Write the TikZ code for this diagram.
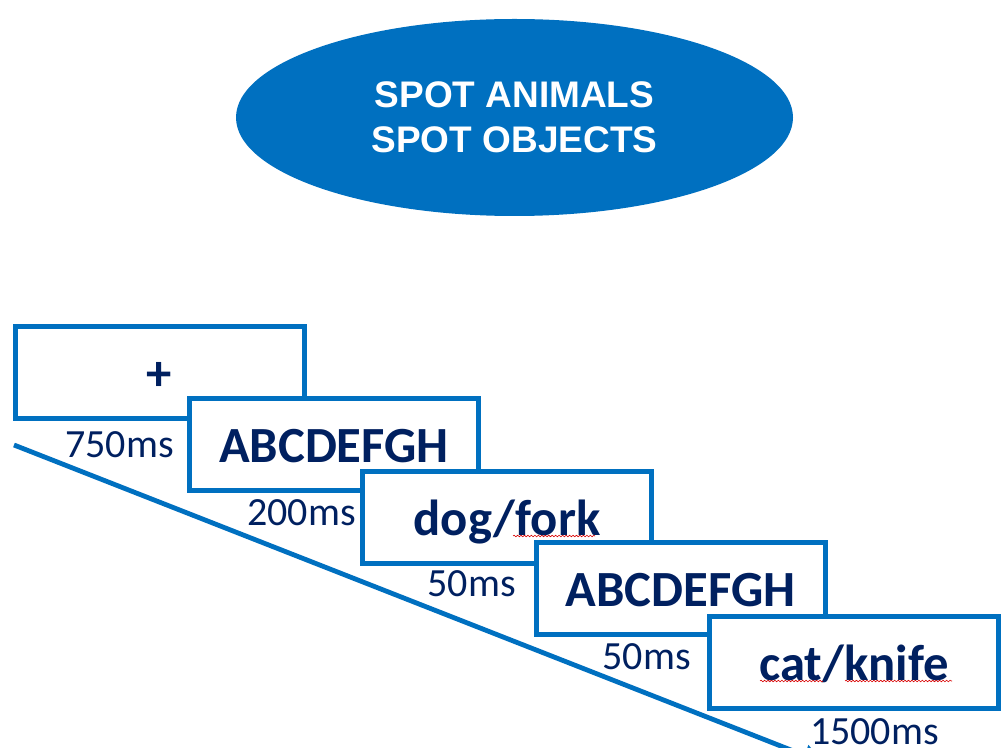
\documentclass[tikz,border=0pt]{standalone}
\usepackage{fontspec}
\usetikzlibrary{shapes.geometric,arrows.meta,decorations.pathmorphing}
\newfontfamily\arialfont{Liberation Sans}
\newfontfamily\calfont{Carlito}
\definecolor{ppblue}{HTML}{0070C0}
\definecolor{navy}{HTML}{002060}
\tikzset{
  title/.style={ellipse, fill=ppblue, draw=none, inner sep=0pt,
    minimum width=417.75pt, minimum height=147.75pt, text=white, align=center,
    font=\arialfont\bfseries\fontsize{27.75pt}{33.4pt}\selectfont},
  stimbox/.style={rectangle, draw=ppblue, fill=white, line width=3.75pt, inner sep=0pt,
    minimum width=216.75pt, minimum height=69pt, text=navy,
    text height=26.6pt, text depth=0pt,
    font=\calfont\bfseries\fontsize{38pt}{45pt}\selectfont},
  timelabel/.style={inner sep=0pt, anchor=base east, text=navy,
    font=\calfont\fontsize{30pt}{36pt}\selectfont},
  timeline/.style={draw=ppblue, line width=3.6pt, -{Triangle[width=15.75pt,length=15pt]}},
  spell/.style={draw=red!85!black, line width=0.45pt, decorate,
    decoration={snake, segment length=2.6pt, amplitude=0.6pt}}
}
\begin{document}
\begin{tikzpicture}[x=0.75pt, y=-0.75pt]
\useasboundingbox (0,0) rectangle (1001,748);
\fill[white] (0,0) rectangle (1001,748);
\clip (0,0) rectangle (1001,748);

\node[title] (head) at (514.5,117.5) {SPOT ANIMALS\\SPOT OBJECTS};

\coordinate (ls) at (14,445);
\coordinate (le) at (823,762.6);
\draw[timeline] (ls) -- (le);

\node[stimbox] (b1) at (159.5,372.5) {+};
\node[stimbox] (b2) at (334,445) {ABCDEFGH};
\node[stimbox] (b3) at (507,517.5) {dog/fork};
\node[stimbox] (b4) at (680.5,589) {ABCDEFGH};
\node[stimbox] (b5) at (854,662.5) {cat/knife};

\node[timelabel] (t1) at (174,458) {750ms};
\node[timelabel] (t2) at (356,526) {200ms};
\node[timelabel] (t3) at (516,597) {50ms};
\node[timelabel] (t4) at (691,670) {50ms};
\node[timelabel] (t5) at (939,745) {1500ms};

\coordinate (s1a) at (513,536); \coordinate (s1b) at (595,536);
\coordinate (s2a) at (760,681); \coordinate (s2b) at (823,681);
\coordinate (s3a) at (845,681); \coordinate (s3b) at (952,681);
\draw[spell] (s1a) -- (s1b);
\draw[spell] (s2a) -- (s2b);
\draw[spell] (s3a) -- (s3b);
\end{tikzpicture}
\end{document}
